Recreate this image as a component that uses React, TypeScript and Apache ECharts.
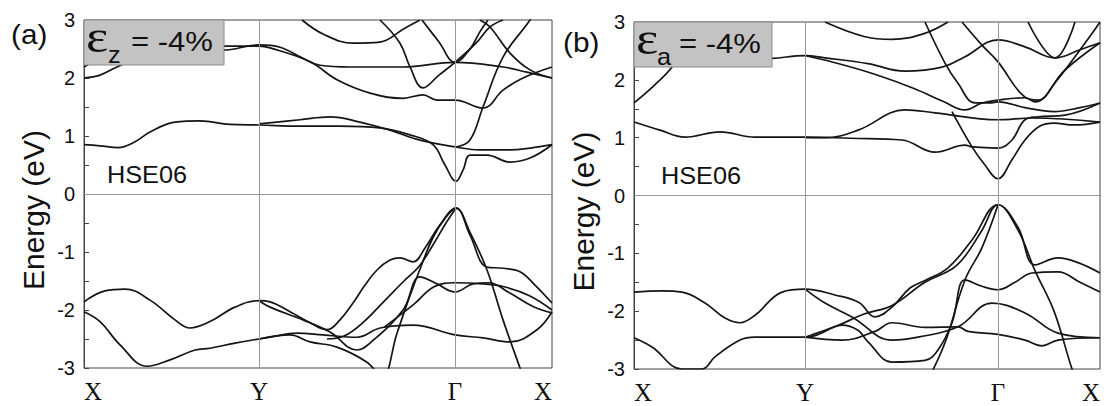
import React, { useEffect, useRef } from 'react';
import * as echarts from 'echarts';

// k-path positions (X, Y, Γ, X) for each panel
const kPathA = [0, 175, 371, 468];
const kPathB = [0, 171, 364, 466];
const kLabels = ['X', 'Y', 'Γ', 'X'];
const energyMin = -3;
const energyMax = 3;

// Panel (a): εz = -4%  — [k, E(eV)]
const aV1 = [[0,-1.86],[21,-1.67],[41,-1.64],[66,-1.83],[91,-2.17],[106,-2.31],[126,-2.2],[151,-1.95],[175,-1.84],[186,-1.86],[206,-2.03],[226,-2.22],[243,-2.34],[256,-2.17],[269,-1.88],[281,-1.57],[293,-1.31],[306,-1.14],[316,-1.1],[329,-1.17],[341,-0.93],[356,-0.53],[372,-0.24],[386,-0.71],[403,-1.26],[419,-1.28],[436,-1.34],[451,-1.57],[468,-1.88]];
const aV2 = [[0,-2.03],[16,-2.2],[36,-2.6],[63,-2.97],[86,-2.86],[111,-2.69],[126,-2.66],[151,-2.57],[175,-2.5],[186,-2.47],[213,-2.4],[239,-2.43],[273,-2.47],[296,-2.31],[329,-2.26],[371,-2.43],[399,-2.48],[426,-2.55],[453,-2.34],[468,-2.03]];
const aV3 = [[175,-1.84],[186,-1.95],[219,-2.17],[246,-2.38],[273,-2.69],[286,-2.57],[319,-2.0],[336,-1.43],[353,-1.55],[371,-1.69],[389,-1.55],[405,-1.53],[425,-1.7],[450,-1.95],[468,-2.05]];
const aV4 = [[175,-2.5],[206,-2.43],[226,-2.55],[253,-2.64],[283,-2.9],[298,-3.15],[313,-2.4],[325,-1.8],[337,-1.25],[349,-0.75],[361,-0.42],[372,-0.25],[386,-0.66],[403,-1.31],[419,-2.17],[436,-3.0],[446,-3.5]];
const aV5 = [[243,-2.5],[260,-2.45],[280,-2.2],[300,-1.85],[320,-1.5],[335,-1.25],[350,-0.85],[362,-0.5],[372,-0.24]];
const aV6 = [[300,-2.3],[330,-1.9],[350,-1.6],[371,-1.53],[399,-1.55],[420,-1.6],[445,-1.75],[468,-2.0]];
const aC1 = [[0,0.85],[16,0.83],[34,0.8],[51,0.9],[66,1.07],[91,1.24],[116,1.26],[146,1.2],[175,1.19],[216,1.17],[256,1.17],[296,1.14],[326,1.02],[349,0.85],[361,0.5],[372,0.22],[379,0.41],[386,0.67],[403,0.67],[426,0.55],[446,0.62],[468,0.85]];
const aC2 = [[175,1.21],[216,1.28],[246,1.33],[276,1.24],[306,1.1],[336,0.93],[372,0.81],[396,0.76],[426,0.76],[446,0.79],[468,0.85]];
const aC3 = [[372,0.81],[386,0.93],[399,1.5],[419,2.36],[446,3.0],[452,3.2]];
const aC4 = [[0,2.0],[16,2.05],[33,2.19],[60,2.38],[100,2.48],[139,2.48],[175,2.57],[196,2.53],[219,2.34],[236,2.22],[266,2.19],[319,2.19],[371,2.27],[419,2.19],[443,2.1],[468,2.0]];
const aC5 = [[0,2.19],[26,2.4],[80,2.55],[130,2.55],[175,2.55],[186,2.52],[226,2.28],[253,1.97],[286,1.74],[319,1.65],[339,1.71],[353,1.62],[371,1.62],[399,1.48],[419,1.79],[439,2.0],[468,2.19]];
const aC6 = [[218,3.0],[240,2.75],[269,2.6],[296,2.62],[320,2.85],[336,3.0]];
const aC7 = [[296,3.0],[316,2.6],[326,2.19],[339,1.83],[355,2.05],[371,2.27],[392,2.6],[406,2.88],[419,3.0]];
const aC8 = [[338,3.0],[355,2.62],[371,2.27],[386,2.5],[396,2.8],[404,3.0]];
const aC9 = [[396,3.0],[406,2.88],[426,2.43],[446,2.14],[468,2.0]];

// Panel (b): εa = -4%
const bV1 = [[0,-1.67],[28,-1.65],[48,-1.67],[71,-1.86],[91,-2.12],[106,-2.2],[121,-2.07],[148,-1.67],[171,-1.62],[201,-1.72],[225,-1.85],[241,-2.1],[258,-1.93],[276,-1.6],[291,-1.47],[314,-1.25],[338,-0.77],[364,-0.16],[384,-0.55],[401,-1.2],[424,-1.08],[444,-1.16],[466,-1.34]];
const bV2 = [[0,-2.46],[18,-2.62],[48,-3.0],[68,-3.0],[81,-2.79],[106,-2.5],[121,-2.45],[171,-2.45],[201,-2.27],[230,-2.05],[258,-1.9],[291,-1.5],[318,-1.27],[331,-1.05],[348,-0.6],[364,-0.16],[384,-0.6],[401,-1.3],[420,-2.0],[438,-3.0],[445,-3.3]];
const bV3 = [[171,-1.62],[191,-1.86],[218,-2.1],[258,-2.5],[284,-2.45],[324,-2.27],[358,-1.86],[391,-2.03],[424,-2.38],[466,-2.46]];
const bV4 = [[171,-2.45],[191,-2.33],[208,-2.24],[224,-2.33],[234,-2.53],[258,-2.88],[291,-2.85],[304,-2.67],[318,-2.2],[331,-1.46],[348,-1.57],[364,-1.63],[381,-1.5],[398,-1.34],[424,-1.32],[446,-1.5],[466,-1.67]];
const bV5 = [[171,-2.45],[208,-2.5],[241,-2.35],[258,-2.2],[291,-2.28],[324,-2.27],[334,-2.35],[364,-2.4],[391,-2.5],[408,-2.6],[424,-2.5],[466,-2.46]];
const bV6 = [[298,-3.05],[312,-2.5],[331,-1.46],[348,-0.9],[364,-0.16]];
const bC1 = [[0,1.27],[26,1.13],[51,1.01],[86,1.1],[121,1.01],[171,1.01],[216,0.99],[268,0.96],[301,0.75],[331,0.87],[338,0.84],[364,0.82],[378,0.96],[391,1.31],[404,1.36],[431,1.39],[466,1.6]];
const bC2 = [[171,1.0],[191,1.0],[224,1.13],[271,1.48],[301,1.43],[364,1.31],[398,1.34],[466,1.27]];
const bC3 = [[318,1.45],[338,0.84],[350,0.55],[364,0.29],[378,0.62],[391,0.96],[406,1.2],[420,1.25],[440,1.22],[466,1.27]];
const bC4 = [[0,1.6],[20,1.9],[38,2.22],[50,2.6],[62,3.0]];
const bC5 = [[100,2.35],[138,2.37],[171,2.42],[191,2.38],[234,2.28],[271,2.15],[308,2.22],[331,2.4],[364,2.69],[391,2.57],[421,2.38],[446,2.52],[466,2.64]];
const bC6 = [[171,2.42],[200,2.3],[240,2.1],[280,1.85],[310,1.62],[331,1.48],[348,1.6],[364,1.65],[391,1.69],[401,1.62],[431,2.17],[466,2.64]];
const bC7 = [[291,3.0],[311,2.29],[324,1.94],[341,1.6],[356,1.6],[364,1.62],[391,1.52],[420,1.45],[446,1.52],[466,1.6]];
const bC8 = [[328,3.0],[348,2.6],[364,2.31],[391,1.7],[404,1.65],[421,1.95],[441,2.4],[458,2.8],[466,3.0]];
const bC9 = [[394,3.0],[421,2.38],[441,3.0]];
const bC10 = [[191,3.0],[230,2.75],[258,2.7],[290,2.8],[314,3.0]];

const bandsA = [aV1, aV2, aV3, aV4, aV5, aV6, aC1, aC2, aC3, aC4, aC5, aC6, aC7, aC8, aC9];
const bandsB = [bV1, bV2, bV3, bV4, bV5, bV6, bC1, bC2, bC3, bC4, bC5, bC6, bC7, bC8, bC9, bC10];

const strainLabels = [
  { sym: 'ε', sub: 'z', rest: '= -4%' },
  { sym: 'ε', sub: 'a', rest: '= -4%' },
];
const panelTags = ['(a)', '(b)'];
const methodLabel = 'HSE06';

const SANS = '"Liberation Sans", Arial, sans-serif';
const SERIF = '"Liberation Serif", "Times New Roman", serif';

export default function App() {
  const ref = useRef<HTMLDivElement>(null);
  useEffect(() => {
    if (!ref.current) return;
    const chart = echarts.init(ref.current, null, { renderer: 'svg' });
    const grids = [
      { left: 84, top: 20, width: 468, height: 348 },
      { left: 634, top: 22, width: 466, height: 347 },
    ];
    const paths = [kPathA, kPathB];
    const xAxes: any[] = [];
    const yAxes: any[] = [];
    const series: any[] = [];
    [bandsA, bandsB].forEach((bands, gi) => {
      const kp = paths[gi];
      xAxes.push({
        gridIndex: gi, type: 'value', min: 0, max: kp[3],
        axisLine: { show: true, lineStyle: { color: '#444', width: 1 } },
        axisTick: { show: false },
        splitLine: { show: false },
        axisLabel: {
          customValues: kp,
          fontFamily: SERIF, fontSize: 25, color: '#111', margin: 11,
          formatter: (v: number) => kLabels[kp.indexOf(v)] ?? '',
          alignMinLabel: 'left', alignMaxLabel: 'right',
        },
      });
      yAxes.push({
        gridIndex: gi, type: 'value', min: energyMin, max: energyMax, interval: 1,
        name: 'Energy (eV)', nameLocation: 'middle', nameGap: 36,
        nameTextStyle: { fontFamily: SANS, fontSize: 30, color: '#111', padding: [0, 32, 0, 0] },
        axisLine: { show: true, lineStyle: { color: '#444', width: 1 } },
        axisTick: { show: true, inside: true, length: 5, lineStyle: { color: '#444' } },
        minorTick: { show: true, splitNumber: 2, length: 5, lineStyle: { color: '#444' } },
        splitLine: { show: false },
        axisLabel: { fontFamily: SANS, fontSize: 20, color: '#111', margin: 9 },
      });
      series.push({
        type: 'line', xAxisIndex: gi, yAxisIndex: gi, data: [], silent: true,
        markLine: {
          symbol: 'none', silent: true, label: { show: false },
          lineStyle: { color: '#999', width: 1, type: 'solid' },
          data: [{ xAxis: kp[1] }, { xAxis: kp[2] }, { yAxis: 0 }],
        },
      });
      bands.forEach((b) => {
        series.push({
          type: 'line', xAxisIndex: gi, yAxisIndex: gi, data: b,
          smooth: 0.4, showSymbol: false, silent: true, clip: true,
          lineStyle: { color: '#151515', width: 1.7 },
        });
      });
    });

    const boxes = [
      { x: 84, y: 20, w: 140, h: 45, tx: 131, sx: 86, subx: 108 },
      { x: 634, y: 22, w: 138, h: 45, tx: 679, sx: 636, subx: 657 },
    ];
    const graphics: any[] = [];
    boxes.forEach((bx, i) => {
      const lab = strainLabels[i];
      graphics.push({
        type: 'rect', shape: { x: bx.x, y: bx.y, width: bx.w, height: bx.h },
        style: { fill: '#c3c3c3', stroke: '#8a8a8a', lineWidth: 1 }, z: 10,
      });
      graphics.push({
        type: 'text', x: bx.sx, y: bx.y + 17, z: 11, scaleX: 1.15,
        style: { text: lab.sym, font: `46px ${SERIF}`, fill: '#111', verticalAlign: 'middle' },
      });
      graphics.push({
        type: 'text', x: bx.subx, y: bx.y + 35, z: 11, scaleX: 1.1,
        style: { text: lab.sub, font: `23px ${SANS}`, fill: '#111', verticalAlign: 'middle' },
      });
      graphics.push({
        type: 'text', x: bx.tx, y: bx.y + 22, z: 11, scaleX: 1.15,
        style: { text: lab.rest, font: `27px ${SANS}`, fill: '#111', verticalAlign: 'middle' },
      });
    });
    graphics.push({ type: 'text', x: 11, y: 34, scaleX: 1.1, style: { text: panelTags[0], font: `27px ${SANS}`, fill: '#111', verticalAlign: 'middle' } });
    graphics.push({ type: 'text', x: 563, y: 42, scaleX: 1.1, style: { text: panelTags[1], font: `27px ${SANS}`, fill: '#111', verticalAlign: 'middle' } });
    graphics.push({ type: 'text', x: 107, y: 175, scaleX: 1.1, style: { text: methodLabel, font: `23px ${SANS}`, fill: '#111', verticalAlign: 'middle' } });
    graphics.push({ type: 'text', x: 661, y: 176, scaleX: 1.1, style: { text: methodLabel, font: `23px ${SANS}`, fill: '#111', verticalAlign: 'middle' } });

    chart.setOption({
      animation: false,
      backgroundColor: '#ffffff',
      grid: grids.map((g) => ({ ...g, show: true, borderColor: '#444', borderWidth: 1, backgroundColor: 'transparent' })),
      xAxis: xAxes,
      yAxis: yAxes,
      series,
      graphic: graphics,
    });
    return () => chart.dispose();
  }, []);
  return <div ref={ref} style={{ position: 'fixed', left: 0, top: 0, width: 1108, height: 406 }} />;
}
